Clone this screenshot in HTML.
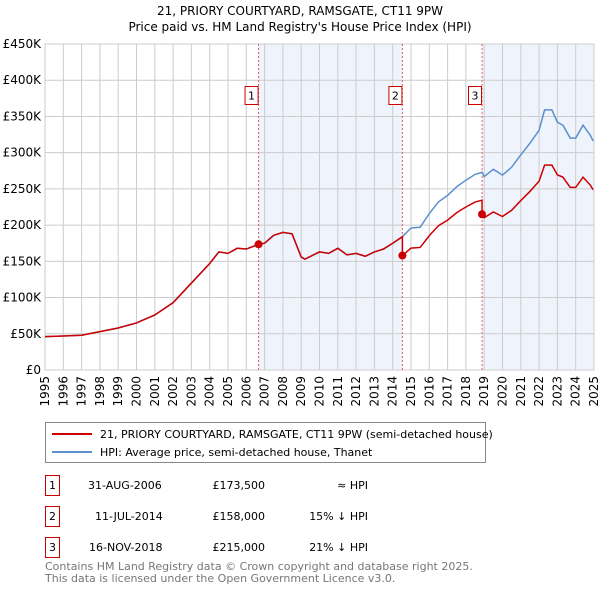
<!DOCTYPE html>
<html><head><meta charset="utf-8"><style>
body{margin:0;background:#fff;font-family:"DejaVu Sans","Liberation Sans",sans-serif;}
svg text{font-family:"DejaVu Sans","Liberation Sans",sans-serif;}
</style></head><body>
<svg id="chart" width="600" height="590" viewBox="0 0 600 590" xmlns="http://www.w3.org/2000/svg">
<text x="300" y="15" text-anchor="middle" font-size="12">21, PRIORY COURTYARD, RAMSGATE, CT11 9PW</text>
<text x="300" y="31" text-anchor="middle" font-size="12">Price paid vs. HM Land Registry's House Price Index (HPI)</text>
<g id="plot"></g>
<g>
<rect x="45.5" y="422.5" width="440" height="40" fill="#fff" stroke="#888"/>
<line x1="52" y1="434" x2="92" y2="434" stroke="#cc0000" stroke-width="2"/>
<text x="100" y="438" font-size="11">21, PRIORY COURTYARD, RAMSGATE, CT11 9PW (semi-detached house)</text>
<line x1="52" y1="452" x2="92" y2="452" stroke="#5b8fd0" stroke-width="2"/>
<text x="100" y="456" font-size="11">HPI: Average price, semi-detached house, Thanet</text>
</g>
<g font-size="11">
<rect x="45.5" y="475.5" width="14" height="20" fill="#fff" stroke="#cc0000"/><text x="52.5" y="489" text-anchor="middle">1</text>
<text x="88" y="489">31-AUG-2006</text><text x="265" y="489" text-anchor="end">£173,500</text><text x="368" y="489" text-anchor="end">≈ HPI</text>
<rect x="45.5" y="506.5" width="14" height="20" fill="#fff" stroke="#cc0000"/><text x="52.5" y="520" text-anchor="middle">2</text>
<text x="95" y="520">11-JUL-2014</text><text x="265" y="520" text-anchor="end">£158,000</text><text x="368" y="520" text-anchor="end">15% ↓ HPI</text>
<rect x="45.5" y="537.5" width="14" height="20" fill="#fff" stroke="#cc0000"/><text x="52.5" y="551" text-anchor="middle">3</text>
<text x="89" y="551">16-NOV-2018</text><text x="265" y="551" text-anchor="end">£215,000</text><text x="368" y="551" text-anchor="end">21% ↓ HPI</text>
</g>
<text x="45" y="570" font-size="11" fill="#777">Contains HM Land Registry data © Crown copyright and database right 2025.</text>
<text x="45" y="582" font-size="11" fill="#777">This data is licensed under the Open Government Licence v3.0.</text>
</svg>
<script>
const hpiYears=[1995,1996,1997,1998,1999,2000,2001,2002,2003,2004,2004.5,2005,2005.5,2006,2006.67,2007,2007.5,2008,2008.5,2009,2009.2,2010,2010.5,2011,2011.5,2012,2012.5,2013,2013.5,2014,2014.53,2015,2015.5,2016,2016.5,2017,2017.5,2018,2018.5,2018.88,2019,2019.5,2020,2020.5,2021,2021.5,2022,2022.3,2022.7,2023,2023.3,2023.7,2024,2024.4,2024.8,2024.95];
const hpiValues=[46,47,48,53,58,65,76,93,120,147,163,161,168,167,173.5,175,186,190,188,156,153,163,161,168,159,161,157,163,167,175,184,196,197,216,232,241,253,262,270,273,267,277,269,280,297,313,331,359,359,342,338,320,320,338,324,316];
const saleYears=[2006.67,2014.53,2018.88];
const salePrices=[173.5,158,215];
const saleLabels=["1","2","3"];
const yTicks=[0,50,100,150,200,250,300,350,400,450];
const yTickLabels=["£0","£50K","£100K","£150K","£200K","£250K","£300K","£350K","£400K","£450K"];
const xTicks=[1995,1996,1997,1998,1999,2000,2001,2002,2003,2004,2005,2006,2007,2008,2009,2010,2011,2012,2013,2014,2015,2016,2017,2018,2019,2020,2021,2022,2023,2024,2025];

const X0=45,X1=594,Y0=370,Y1=44;
const xs=t=>X0+(t-1995)/30*(X1-X0);
const ys=v=>Y0-v/450*(Y0-Y1);
const NS="http://www.w3.org/2000/svg";
const g=document.getElementById('plot');
function mk(tag,attrs){const e=document.createElementNS(NS,tag);for(const k in attrs)e.setAttribute(k,attrs[k]);g.appendChild(e);return e;}
function hpiAt(t){for(let i=0;i<hpiYears.length-1;i++){if(t>=hpiYears[i]&&t<=hpiYears[i+1]){const f=(t-hpiYears[i])/(hpiYears[i+1]-hpiYears[i]);return hpiValues[i]+f*(hpiValues[i+1]-hpiValues[i]);}}return hpiValues[hpiValues.length-1];}

// shaded ownership periods
let r=mk('rect',{x:xs(saleYears[0]),y:Y1,width:xs(saleYears[1])-xs(saleYears[0]),height:Y0-Y1,fill:'#eef3fc'});


r=mk('rect',{x:xs(saleYears[2]),y:Y1,width:X1-xs(saleYears[2]),height:Y0-Y1,fill:'#eef3fc'});



// grid
yTicks.forEach((v,i)=>{
 const l=mk('line',{x1:X0,x2:X1,y1:ys(v),y2:ys(v),stroke:'#cccccc','stroke-width':1});
 
 
 const t=mk('text',{x:X0-4,y:ys(v)+4,'text-anchor':'end','font-size':12});
 t.textContent=yTickLabels[i];
 
 
});
xTicks.forEach(yr=>{
 const l=mk('line',{x1:xs(yr),x2:xs(yr),y1:Y1,y2:Y0,stroke:'#cccccc','stroke-width':1});
 
 
 const t=mk('text',{x:0,y:0,'text-anchor':'end','font-size':12,transform:`translate(${xs(yr)+4},${Y0+6}) rotate(-90)`});
 t.textContent=yr;
 
 
});
const border=mk('rect',{x:X0,y:Y1,width:X1-X0,height:Y0-Y1,fill:'none',stroke:'#cccccc'});



// sale markers dashed
saleYears.forEach((s,i)=>{
 const l=mk('line',{x1:xs(s),x2:xs(s),y1:Y1,y2:Y0,stroke:'#e06060','stroke-width':1,'stroke-dasharray':'2,2'});
 
 
 const b=mk('rect',{x:xs(s)-13.5,y:86.5,width:13,height:18,fill:'#fff',stroke:'#cc0000'});
 
 
 const t=mk('text',{x:xs(s)-7,y:99.5,'text-anchor':'middle','font-size':11});
 t.textContent=saleLabels[i];
 
 
});

// HPI line
const hp=mk('polyline',{points:hpiYears.map((t,i)=>xs(t)+','+ys(hpiValues[i])).join(' '),fill:'none',stroke:'#5b8fd0','stroke-width':1.5});



// property line: indexed from each sale
const pts=[];
hpiYears.forEach((t,i)=>{
 let k=-1;for(let j=0;j<saleYears.length;j++)if(t>=saleYears[j])k=j;
 let v=k<0?hpiValues[i]*salePrices[0]/hpiAt(saleYears[0]):hpiValues[i]*salePrices[k]/hpiAt(saleYears[k]);
 if(k>0&&Math.abs(t-saleYears[k])<1e-6){pts.push(xs(t)+','+ys(hpiValues[i]*salePrices[k-1]/hpiAt(saleYears[k-1])));}
 pts.push(xs(t)+','+ys(v));
});
const pl=mk('polyline',{points:pts.join(' '),fill:'none',stroke:'#cc0000','stroke-width':1.5});


saleYears.forEach((s,i)=>{
 const c=mk('circle',{cx:xs(s),cy:ys(salePrices[i]),r:4,fill:'#cc0000'});
 
 
});
</script>
</body></html>
